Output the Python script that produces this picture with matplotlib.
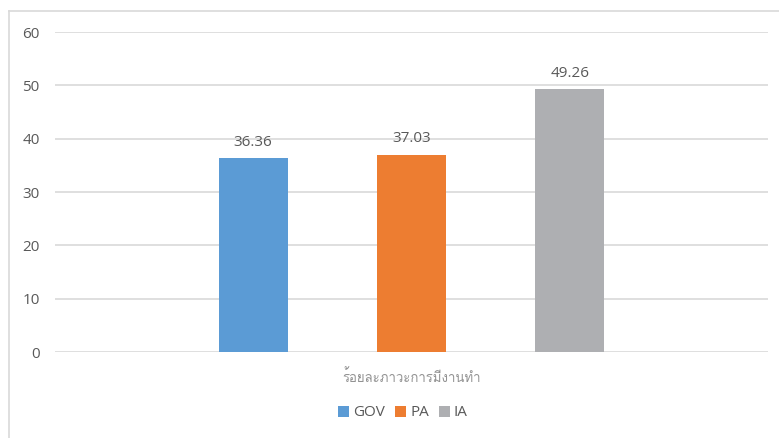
import matplotlib
matplotlib.use("Agg")
import matplotlib.pyplot as plt
from matplotlib import font_manager
from matplotlib.patches import Patch
from matplotlib.lines import Line2D
from fontTools.ttLib import TTFont


series = ["GOV", "PA", "IA"]
values = [36.36, 37.03, 49.26]
colors = ["#5B9BD5", "#ED7D31", "#AEAFB2"]
category = "ร้อยละภาวะการมีงานทำ"
yticks = [0, 10, 20, 30, 40, 50, 60]

TEXT = "#595959"
GRID = "#D9D9D9"
BASE_FONT = "Open Sans"


def _thai_font():
    # first installed font that has Thai glyphs
    for f in font_manager.fontManager.ttflist:
        try:
            cmap = TTFont(f.fname, fontNumber=0, lazy=True).getBestCmap()
        except Exception:
            continue
        if cmap and 0x0E23 in cmap and 0x0E33 in cmap:
            return f.name
    return None


thai = _thai_font()
thai_family = [thai, "DejaVu Sans"] if thai else ["DejaVu Sans"]

W, H = 779, 438
fig = plt.figure(figsize=(W / 100, H / 100), dpi=100, facecolor="white")
ax = fig.add_axes([55 / W, 1 - 352 / H, (768 - 55) / W, (352 - 32) / H])

xs = [-1, 0, 1]
ax.bar(xs, values, width=0.435, color=colors, zorder=2)

for x, v in zip(xs, values):
    ax.annotate(f"{v:.2f}", xy=(x, v), xytext=(0, 6), textcoords="offset points",
                ha="center", va="bottom", color=TEXT, fontsize=11, family=BASE_FONT)

ax.set_xlim(-2.25, 2.25)
ax.set_ylim(0, 60)
ax.set_yticks(yticks)
ax.set_yticklabels([str(t) for t in yticks], family=BASE_FONT, fontsize=11, color=TEXT)
ax.tick_params(axis="y", length=0, pad=11)
ax.set_xticks([])
ax.grid(axis="y", color=GRID, linewidth=1.2, zorder=0)
for s in ax.spines.values():
    s.set_visible(False)

fig.text(0.528, 1 - 377 / H, category, ha="center", va="center", color="#929292",
         fontsize=9.5, family=thai_family)

handles = [Patch(facecolor=c, edgecolor="none", label=s) for s, c in zip(series, colors)]
leg = fig.legend(handles=handles, loc="center", bbox_to_anchor=(0.517, 1 - 413 / H), ncol=3,
                 frameon=False, handlelength=0.75, handleheight=0.75, handletextpad=0.25,
                 columnspacing=0.65, prop={"family": BASE_FONT, "size": 11})
for t in leg.get_texts():
    t.set_color(TEXT)

# chart area border (top and left visible)
fig.add_artist(Line2D([9 / W, 1], [1 - 11 / H, 1 - 11 / H], color=GRID, linewidth=1.2,
                      transform=fig.transFigure))
fig.add_artist(Line2D([9 / W, 9 / W], [1 - 11 / H, 0], color=GRID, linewidth=1.2,
                      transform=fig.transFigure))

fig.savefig("out.png", dpi=100, facecolor="white")
